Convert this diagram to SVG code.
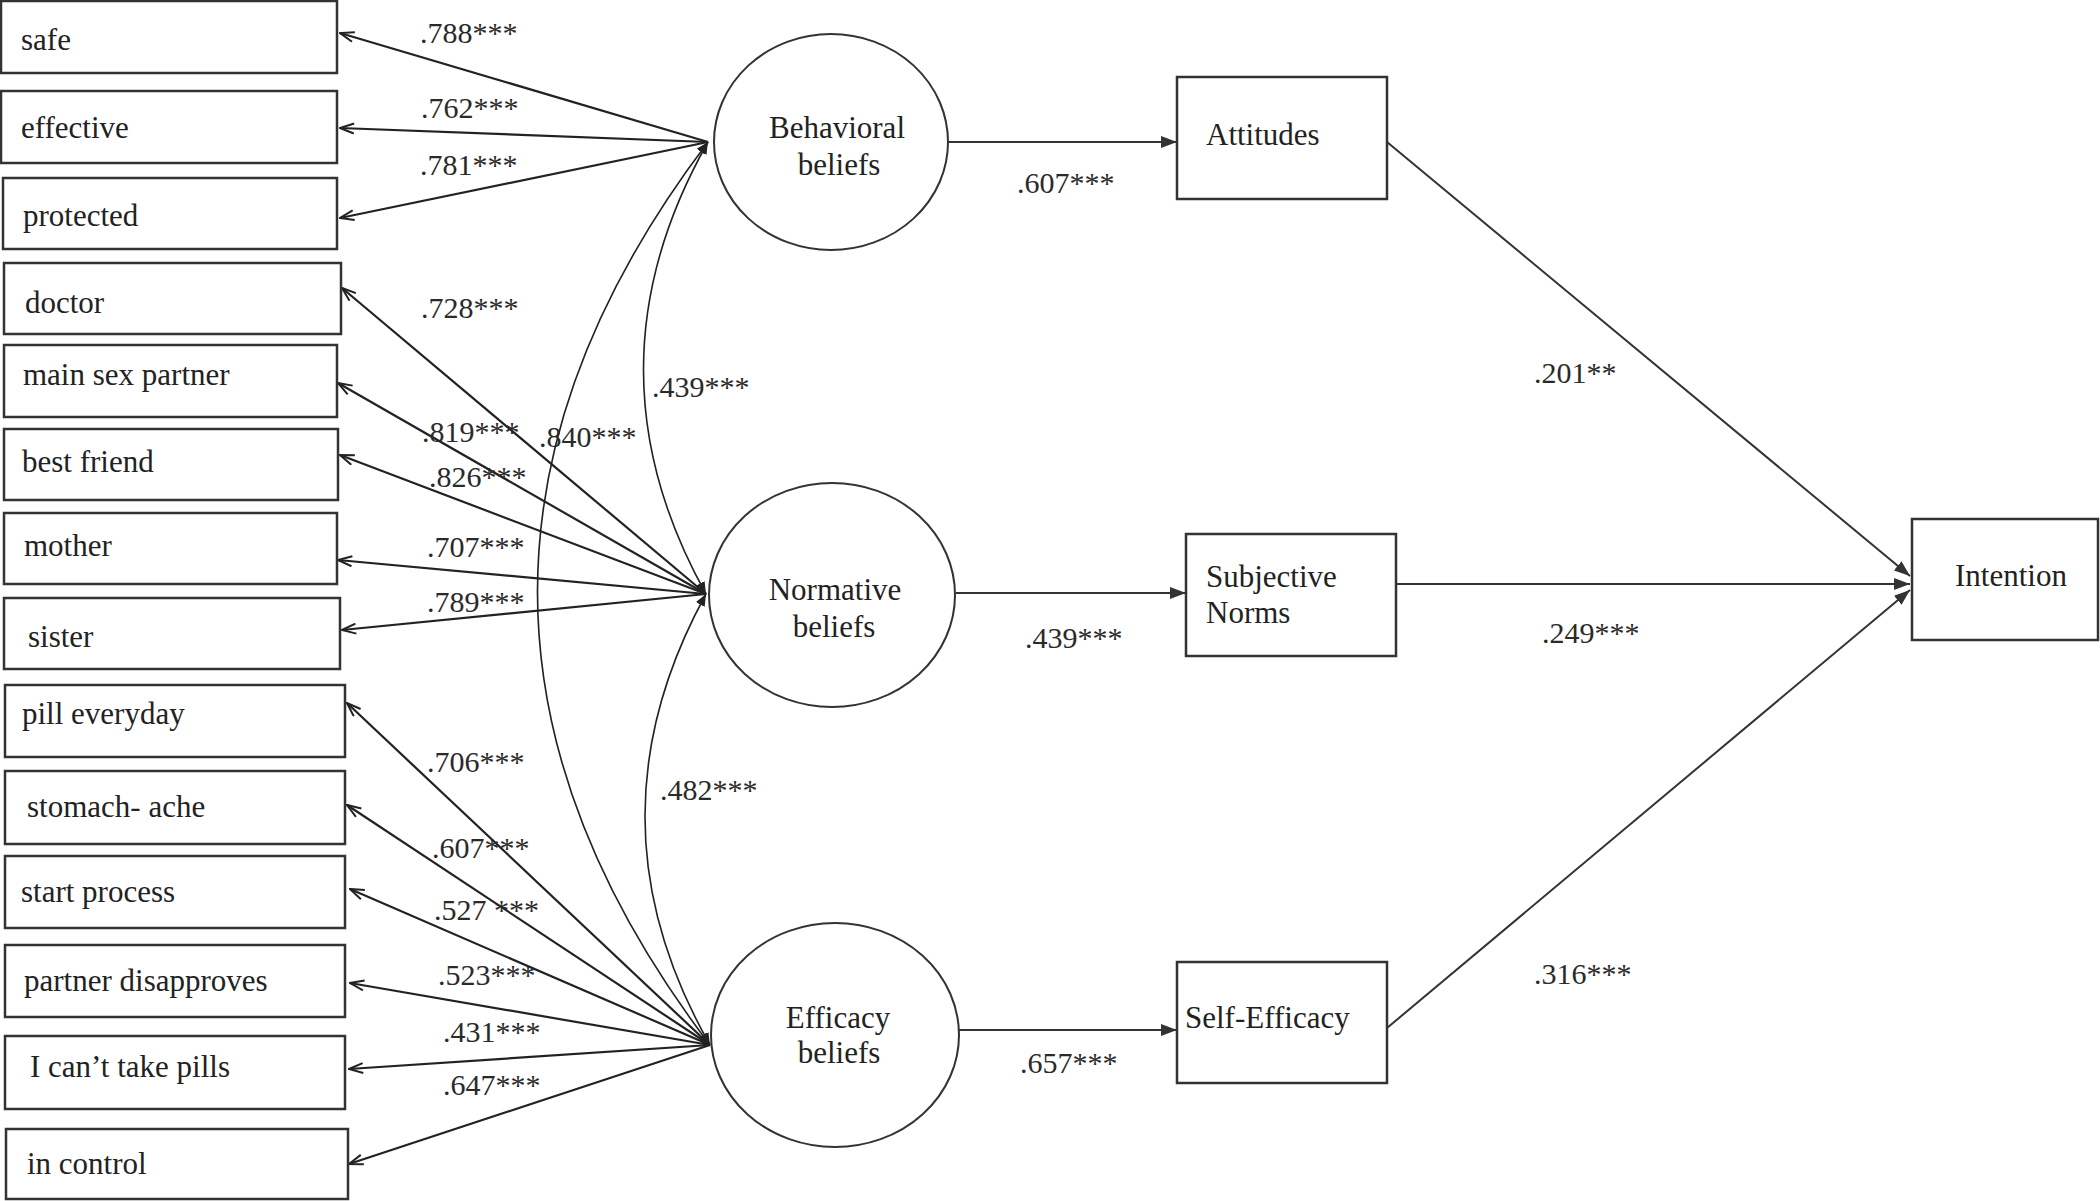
<svg xmlns="http://www.w3.org/2000/svg" width="2100" height="1201" viewBox="0 0 2100 1201">
<style>
.box{fill:#fff;stroke:#333;stroke-width:2.5}
.lat{fill:#fff;stroke:#333;stroke-width:2}
.t{font-family:"Liberation Serif","Times New Roman",serif;font-size:31px;fill:#222}
.c{text-anchor:middle}
.lbl{font-family:"Liberation Serif","Times New Roman",serif;font-size:30px;fill:#2a2a2a}
.ld{fill:none;stroke:#222;stroke-width:2.2}
.cv{fill:none;stroke:#222;stroke-width:1.6}
.pth{fill:none;stroke:#333;stroke-width:2}
</style>
<defs>
<marker id="open" markerUnits="userSpaceOnUse" viewBox="0 0 16 12" refX="15" refY="6" markerWidth="16" markerHeight="12" orient="auto">
<path d="M1,1 L15,6 L1,11" fill="none" stroke="#222" stroke-width="2"/>
</marker>
<marker id="solid" markerUnits="userSpaceOnUse" viewBox="0 0 16 12" refX="16" refY="6" markerWidth="16" markerHeight="12" orient="auto">
<path d="M0,0 L16,6 L0,12 z" fill="#333"/>
</marker>
<marker id="small" markerUnits="userSpaceOnUse" viewBox="0 0 12 10" refX="12" refY="5" markerWidth="12" markerHeight="10" orient="auto-start-reverse">
<path d="M0,0 L12,5 L0,10 z" fill="#222"/>
</marker>
</defs>
<rect width="2100" height="1201" fill="#fff"/>

<g id="connectors">
<!-- Behavioral loadings -->
<path class="ld" d="M708,142 L340,33" marker-end="url(#open)"/>
<path class="ld" d="M708,142 L340,128" marker-end="url(#open)"/>
<path class="ld" d="M708,142 L340,218" marker-end="url(#open)"/>
<!-- Normative loadings -->
<path class="ld" d="M706,594 L342,288" marker-end="url(#open)"/>
<path class="ld" d="M706,594 L338,383" marker-end="url(#open)"/>
<path class="ld" d="M706,594 L340,455" marker-end="url(#open)"/>
<path class="ld" d="M706,594 L338,560" marker-end="url(#open)"/>
<path class="ld" d="M706,594 L342,630" marker-end="url(#open)"/>
<!-- Efficacy loadings -->
<path class="ld" d="M710,1045 L347,703" marker-end="url(#open)"/>
<path class="ld" d="M710,1045 L347,805" marker-end="url(#open)"/>
<path class="ld" d="M710,1045 L350,889" marker-end="url(#open)"/>
<path class="ld" d="M710,1045 L350,983" marker-end="url(#open)"/>
<path class="ld" d="M710,1045 L349,1069" marker-end="url(#open)"/>
<path class="ld" d="M710,1045 L349,1164" marker-end="url(#open)"/>
<!-- Covariances -->
<path class="cv" d="M708,142 Q580,368 706,594" marker-start="url(#small)" marker-end="url(#small)"/>
<path class="cv" d="M706,594 Q582,820 710,1045" marker-start="url(#small)" marker-end="url(#small)"/>
<path class="cv" d="M708,142 Q366,593 710,1045" marker-start="url(#small)" marker-end="url(#small)"/>
<!-- Structural paths -->
<path class="pth" d="M948,142 L1177,142" marker-end="url(#solid)"/>
<path class="pth" d="M956,593 L1186,593" marker-end="url(#solid)"/>
<path class="pth" d="M959,1030 L1177,1030" marker-end="url(#solid)"/>
<path class="pth" d="M1387,142 L1910,576" marker-end="url(#solid)"/>
<path class="pth" d="M1396,584 L1910,584" marker-end="url(#solid)"/>
<path class="pth" d="M1387,1028 L1910,590" marker-end="url(#solid)"/>
<!-- labels -->
<text class="lbl" x="420" y="43">.788***</text>
<text class="lbl" x="421" y="118">.762***</text>
<text class="lbl" x="420" y="175">.781***</text>
<text class="lbl" x="421" y="318">.728***</text>
<text class="lbl" x="422" y="442">.819***</text>
<text class="lbl" x="539" y="447">.840***</text>
<text class="lbl" x="429" y="487">.826***</text>
<text class="lbl" x="427" y="557">.707***</text>
<text class="lbl" x="427" y="612">.789***</text>
<text class="lbl" x="652" y="397">.439***</text>
<text class="lbl" x="427" y="772">.706***</text>
<text class="lbl" x="432" y="858">.607***</text>
<text class="lbl" x="434" y="920">.527 ***</text>
<text class="lbl" x="438" y="985">.523***</text>
<text class="lbl" x="443" y="1042">.431***</text>
<text class="lbl" x="443" y="1095">.647***</text>
<text class="lbl" x="660" y="800">.482***</text>
<text class="lbl" x="1017" y="193">.607***</text>
<text class="lbl" x="1025" y="648">.439***</text>
<text class="lbl" x="1020" y="1073">.657***</text>
<text class="lbl" x="1534" y="383">.201**</text>
<text class="lbl" x="1542" y="643">.249***</text>
<text class="lbl" x="1534" y="984">.316***</text>
</g>

<g id="safe"><rect class="box" x="1" y="1" width="336" height="72"/><text class="t" x="21" y="50">safe</text></g>
<g id="effective"><rect class="box" x="1" y="91" width="336" height="72"/><text class="t" x="21" y="138">effective</text></g>
<g id="protected"><rect class="box" x="3" y="178" width="334" height="71"/><text class="t" x="23" y="226">protected</text></g>
<g id="doctor"><rect class="box" x="4" y="263" width="337" height="71"/><text class="t" x="25" y="313">doctor</text></g>
<g id="main-sex-partner"><rect class="box" x="4" y="345" width="333" height="72"/><text class="t" x="23" y="385">main sex partner</text></g>
<g id="best-friend"><rect class="box" x="4" y="429" width="334" height="71"/><text class="t" x="22" y="472">best friend</text></g>
<g id="mother"><rect class="box" x="4" y="513" width="333" height="71"/><text class="t" x="24" y="556">mother</text></g>
<g id="sister"><rect class="box" x="4" y="598" width="336" height="71"/><text class="t" x="28" y="647">sister</text></g>
<g id="pill-everyday"><rect class="box" x="5" y="685" width="340" height="72"/><text class="t" x="22" y="724">pill everyday</text></g>
<g id="stomach-ache"><rect class="box" x="5" y="771" width="340" height="73"/><text class="t" x="27" y="817">stomach- ache</text></g>
<g id="start-process"><rect class="box" x="5" y="856" width="340" height="72"/><text class="t" x="21" y="902">start process</text></g>
<g id="partner-disapproves"><rect class="box" x="5" y="945" width="340" height="72"/><text class="t" x="24" y="991">partner disapproves</text></g>
<g id="cant-take-pills"><rect class="box" x="5" y="1036" width="340" height="73"/><text class="t" x="30" y="1077">I can’t take pills</text></g>
<g id="in-control"><rect class="box" x="6" y="1129" width="342" height="70"/><text class="t" x="27" y="1174">in control</text></g>

<g id="behavioral-beliefs"><ellipse class="lat" cx="831" cy="142" rx="117" ry="108"/><text class="t c" x="837" y="138">Behavioral</text><text class="t c" x="839" y="175">beliefs</text></g>
<g id="normative-beliefs"><ellipse class="lat" cx="832" cy="595" rx="123" ry="112"/><text class="t c" x="835" y="600">Normative</text><text class="t c" x="834" y="637">beliefs</text></g>
<g id="efficacy-beliefs"><ellipse class="lat" cx="835" cy="1035" rx="124" ry="112"/><text class="t c" x="838" y="1028">Efficacy</text><text class="t c" x="839" y="1063">beliefs</text></g>

<g id="attitudes"><rect class="box" x="1177" y="77" width="210" height="122"/><text class="t" x="1206" y="145">Attitudes</text></g>
<g id="subjective-norms"><rect class="box" x="1186" y="534" width="210" height="122"/><text class="t" x="1206" y="587">Subjective</text><text class="t" x="1206" y="623">Norms</text></g>
<g id="self-efficacy"><rect class="box" x="1177" y="962" width="210" height="121"/><text class="t" x="1185" y="1028">Self-Efficacy</text></g>
<g id="intention"><rect class="box" x="1912" y="519" width="186" height="121"/><text class="t" x="1955" y="586">Intention</text></g>
</svg>
